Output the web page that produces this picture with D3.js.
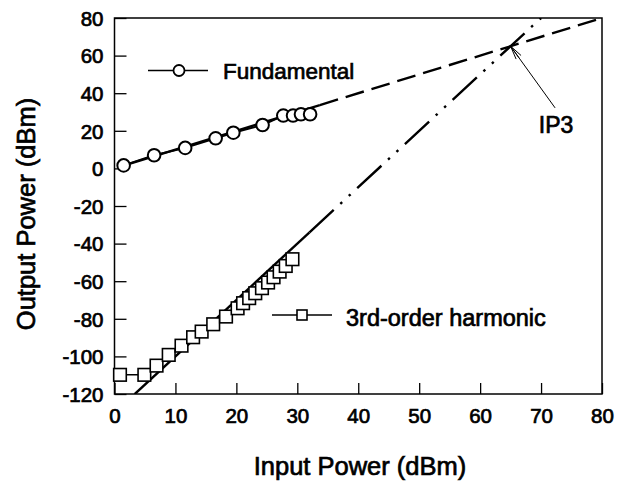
<!DOCTYPE html>
<html><head><meta charset="utf-8">
<script src="https://cdn.jsdelivr.net/npm/d3@7"></script>
<style>
body{margin:0;background:#fff;}
text{font-family:"Liberation Sans",Arial,sans-serif;font-weight:normal;fill:#000;stroke:#000;stroke-width:0.7px;}
</style></head>
<body><div id="chart"></div>
<script>
// ---- data ----
const fundamentalX = [1.5, 6.5, 11.6, 16.6, 19.5, 24.3, 27.7, 29.3, 30.6, 32.1];
const fundamentalY = [1.6, 7.0, 10.9, 16.0, 19.0, 23.1, 28.1, 28.1, 28.8, 28.8];
const harmonicX = [0.9, 4.9, 6.9, 8.9, 11.0, 12.9, 14.3, 16.2, 18.3, 20.2, 21.1, 22.1, 23.1, 24.2, 25.2, 26.1, 27.1, 28.1, 29.2];
const harmonicY = [-109.8, -109.8, -104.9, -99.2, -94.3, -89.8, -86.8, -82.9, -78.8, -74.4, -71.7, -69.0, -66.4, -63.7, -60.7, -57.9, -54.9, -51.9, -48.3];
const xTicks = [0, 10, 20, 30, 40, 50, 60, 70, 80];
const yTicks = [-120, -100, -80, -60, -40, -20, 0, 20, 40, 60, 80];
// fit lines: slope, intercept, solid start x, solid end x
const fitSlopes = [1, 3];
const fitIntercepts = [0, -130];
const fitSolidFrom = [1.5, 3.3];
const fitSolidTo = [33.7, 32];
const ip3 = [65, 65];
const ip3LabelAt = [72.3, 32.2];
const legendLabels = ["Fundamental", "3rd-order harmonic"];

// ---- layout ----
const W = 621, H = 482;
const x = d3.scaleLinear().domain([0, 80]).range([114.5, 602]);
const y = d3.scaleLinear().domain([-120, 80]).range([394, 18]);

const svg = d3.select("#chart").append("svg").attr("width", W).attr("height", H);

const clipId = "plotclip";
svg.append("clipPath").attr("id", clipId).append("rect")
  .attr("x", x(0)).attr("y", y(80)).attr("width", x(80) - x(0)).attr("height", y(-120) - y(80));

// axes (inward ticks)
const fmt = d => String(d);
const yAxis = d3.axisLeft(y).tickValues(yTicks).tickSize(-12).tickPadding(24).tickFormat(fmt);
const xAxis = d3.axisBottom(x).tickValues(xTicks).tickSize(-11).tickPadding(24).tickFormat(fmt);
const gy = svg.append("g").attr("transform", `translate(${x(0)},0)`).call(yAxis);
const gx = svg.append("g").attr("transform", `translate(0,${y(-120)})`).call(xAxis);
[gy, gx].forEach(g => {
  g.attr("font-family", null).attr("font-size", null);
  g.select(".domain").remove();
  g.selectAll(".tick line").attr("stroke", "#000").attr("stroke-width", 1.3);
  g.selectAll(".tick text").attr("font-size", 20.5).attr("fill", "#000");
});
gy.selectAll(".tick text").attr("x", -11).attr("dy", "0.36em");
gx.selectAll(".tick text").attr("y", 14).attr("dy", "0.71em");

// frame
svg.append("rect").attr("x", x(0)).attr("y", y(80)).attr("width", x(80) - x(0)).attr("height", y(-120) - y(80))
  .attr("fill", "none").attr("stroke", "#000").attr("stroke-width", 1.5);

const plot = svg.append("g").attr("clip-path", `url(#${clipId})`);

// fit lines
const dashes = ["19,8", "33,9,2.5,9,2.5,9"];
fitSlopes.forEach((m, i) => {
  const b = fitIntercepts[i];
  const f = v => m * v + b;
  const xEnd = Math.min(80, (80 - b) / m);
  plot.append("line")
    .attr("x1", x(fitSolidFrom[i])).attr("y1", y(f(fitSolidFrom[i])))
    .attr("x2", x(fitSolidTo[i])).attr("y2", y(f(fitSolidTo[i])))
    .attr("stroke", "#000").attr("stroke-width", 2.4);
  plot.append("line")
    .attr("x1", x(fitSolidTo[i])).attr("y1", y(f(fitSolidTo[i])))
    .attr("x2", x(xEnd)).attr("y2", y(f(xEnd)))
    .attr("stroke", "#000").attr("stroke-width", 2.4).attr("stroke-dasharray", dashes[i]);
});

// data polylines
const line = d3.line().x(d => x(d[0])).y(d => y(d[1]));
const fund = fundamentalX.map((v, i) => [v, fundamentalY[i]]);
const harm = harmonicX.map((v, i) => [v, harmonicY[i]]);
plot.append("path").datum(fund).attr("d", line).attr("fill", "none").attr("stroke", "#000").attr("stroke-width", 2);
plot.append("path").datum(harm).attr("d", line).attr("fill", "none").attr("stroke", "#000").attr("stroke-width", 1.5);

// markers
svg.append("g").selectAll("circle").data(fund).join("circle")
  .attr("cx", d => x(d[0])).attr("cy", d => y(d[1])).attr("r", 6.3)
  .attr("fill", "#fff").attr("stroke", "#000").attr("stroke-width", 2);
svg.append("g").selectAll("rect").data(harm).join("rect")
  .attr("x", d => x(d[0]) - 6.3).attr("y", d => y(d[1]) - 6.3).attr("width", 12.6).attr("height", 12.6)
  .attr("fill", "#fff").attr("stroke", "#000").attr("stroke-width", 1.6);

// IP3 arrow
const ax1 = x(ip3LabelAt[0]), ay1 = y(ip3LabelAt[1]), ax2 = x(ip3[0]), ay2 = y(ip3[1]);
svg.append("line").attr("x1", ax1).attr("y1", ay1).attr("x2", ax2).attr("y2", ay2)
  .attr("stroke", "#000").attr("stroke-width", 1);
const ang = Math.atan2(ay1 - ay2, ax1 - ax2);
const hl = 14, hw = 0.22;
[ -hw, 0, hw ].forEach(a => {
  svg.append("line").attr("x1", ax2).attr("y1", ay2)
    .attr("x2", ax2 + hl * Math.cos(ang + a)).attr("y2", ay2 + hl * Math.sin(ang + a))
    .attr("stroke", "#000").attr("stroke-width", 1);
});
svg.append("text").attr("x", ax1 + 1).attr("y", 133).attr("text-anchor", "middle")
  .attr("font-size", 23).text("IP3");

// legends
const lg1 = svg.append("g");
lg1.append("line").attr("x1", 148).attr("x2", 208).attr("y1", 70.5).attr("y2", 70.5).attr("stroke", "#000").attr("stroke-width", 1.3);
lg1.append("circle").attr("cx", 179).attr("cy", 70.5).attr("r", 5.5).attr("fill", "#fff").attr("stroke", "#000").attr("stroke-width", 1.8);
lg1.append("text").attr("x", 223).attr("y", 78.5).attr("font-size", 22.5).text(legendLabels[0]);

const lg2 = svg.append("g");
lg2.append("line").attr("x1", 272).attr("x2", 332).attr("y1", 315).attr("y2", 315).attr("stroke", "#000").attr("stroke-width", 1.3);
lg2.append("rect").attr("x", 297).attr("y", 310).attr("width", 10).attr("height", 10).attr("fill", "#fff").attr("stroke", "#000").attr("stroke-width", 1.6);
lg2.append("text").attr("x", 346).attr("y", 325.5).attr("font-size", 23.5).text(legendLabels[1]);

// axis titles
svg.append("text").attr("x", 360).attr("y", 475).attr("text-anchor", "middle").attr("font-size", 25.5).text("Input Power (dBm)");
svg.append("text").attr("transform", "translate(35,214) rotate(-90)").attr("text-anchor", "middle").attr("font-size", 25.5).text("Output Power (dBm)");
</script></body></html>
